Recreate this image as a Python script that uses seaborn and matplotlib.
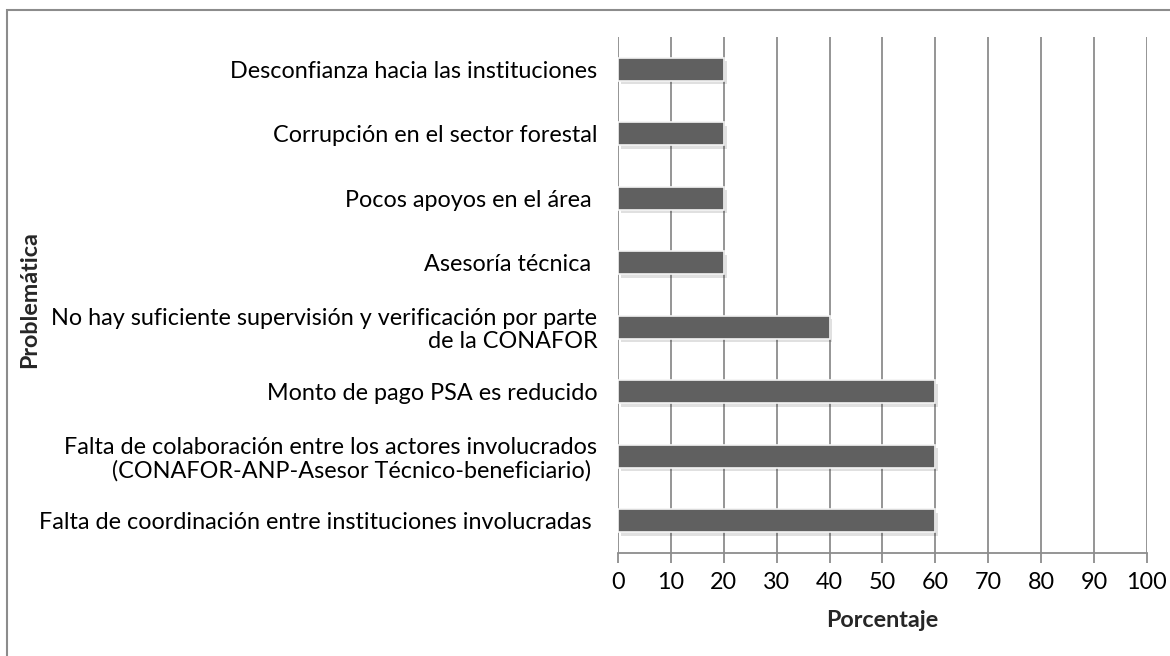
import matplotlib
matplotlib.use("Agg")
import matplotlib.pyplot as plt
import matplotlib.patheffects as pe
from matplotlib.patches import Rectangle
import seaborn as sns
import pandas as pd

problemas = [
    "Desconfianza hacia las instituciones",
    "Corrupción en el sector forestal",
    "Pocos apoyos en el área ",
    "Asesoría técnica ",
    "No hay suficiente supervisión y verificación por parte\nde la CONAFOR",
    "Monto de pago PSA es reducido",
    "Falta de colaboración entre los actores involucrados\n(CONAFOR-ANP-Asesor Técnico-beneficiario) ",
    "Falta de coordinación entre instituciones involucradas ",
]
porcentaje = [20, 20, 20, 20, 40, 60, 60, 60]
ticks = [0, 10, 20, 30, 40, 50, 60, 70, 80, 90, 100]

df = pd.DataFrame({"Problemática": problemas, "Porcentaje": porcentaje})

sns.set_theme(style="white")
plt.rcParams["font.family"] = ["Lato", "DejaVu Sans"]
FS = 16.8

fig = plt.figure(figsize=(11.7, 6.56), dpi=100)
ax = fig.add_axes([0.5282, 0.157, 0.4521, 0.7866])

# outer chart frame
fig.patches.append(Rectangle((7 / 1170, -0.05), 1.2, 1 - 10 / 656 + 0.05,
                             transform=fig.transFigure, fill=False,
                             edgecolor="#8c8c8c", linewidth=1.5, zorder=0))

sns.barplot(data=df, x="Porcentaje", y="Problemática", orient="h",
            color="#606060", saturation=1, width=0.36, ax=ax,
            edgecolor="#f4f4f4", linewidth=1.2, zorder=3)
for bar in ax.patches:
    bar.set_path_effects([pe.SimplePatchShadow(offset=(2, -2.5), shadow_rgbFace="#000000", alpha=0.12),
                          pe.Normal()])

ax.set_xlim(0, 100)
ax.set_xticks(ticks)
ax.set_xticklabels([str(t) for t in ticks])
ax.set_ylim(7.5, -0.5)
ax.xaxis.grid(True, color="#8c8c8c", linewidth=1.3, zorder=0)
ax.set_axisbelow(True)

for s in ["top", "right", "left"]:
    ax.spines[s].set_visible(False)
ax.spines["bottom"].set_color("#8c8c8c")
ax.spines["bottom"].set_linewidth(1.3)

ax.tick_params(axis="x", which="both", bottom=True, length=7, width=1.3,
               color="#8c8c8c", labelsize=FS, pad=7, labelcolor="black")
ax.tick_params(axis="y", left=False, labelsize=FS, pad=9, labelcolor="black")
for lbl in ax.get_yticklabels():
    lbl.set_linespacing(1.1)

ax.set_xlabel("Porcentaje", fontsize=FS, fontweight="bold", labelpad=12)
ax.set_ylabel("")
fig.text(30 / 1170, 1 - 300 / 656, "Problemática", rotation=90, fontsize=FS,
         fontweight="bold", ha="center", va="center")

fig.savefig("out.png", dpi=100)
